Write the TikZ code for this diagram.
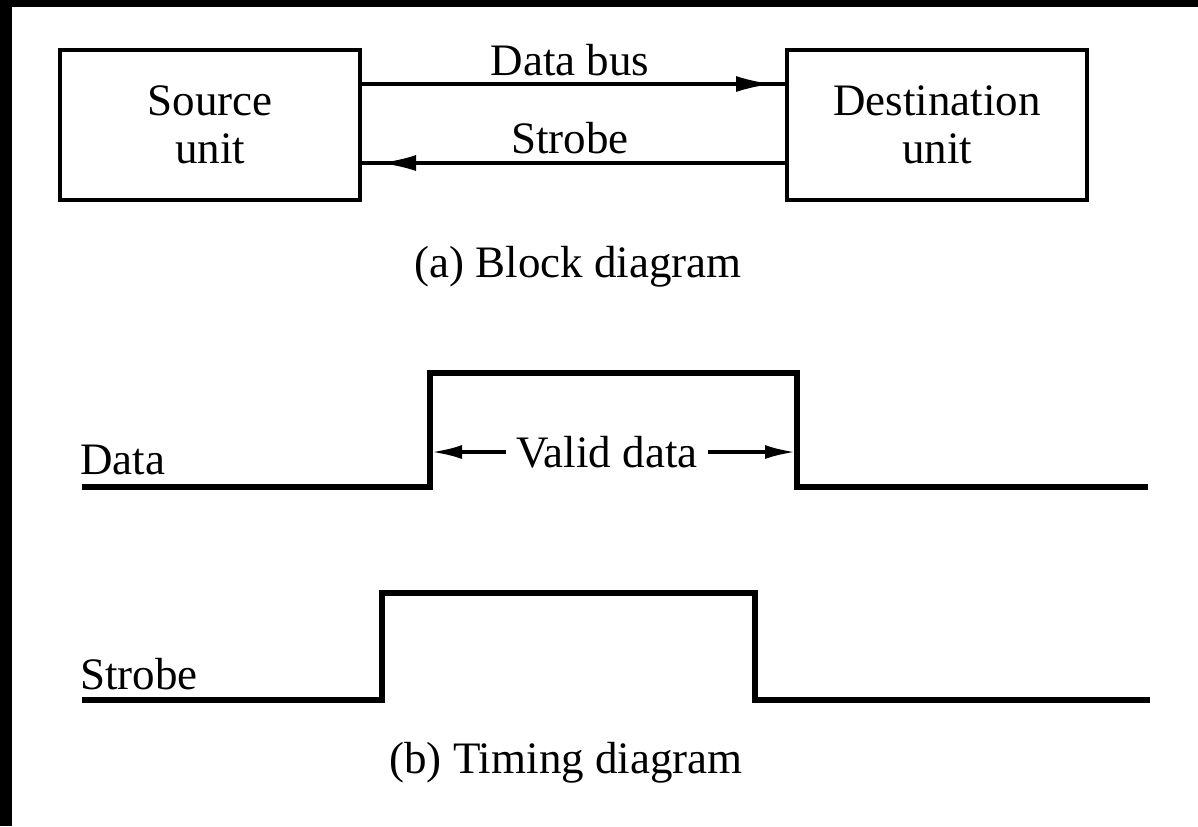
\documentclass[tikz,border=0pt]{standalone}
\usepackage{fontspec}
\setmainfont{Liberation Serif}
\usetikzlibrary{arrows.meta}
\begin{document}
\begin{tikzpicture}[x=0.5pt,y=-0.5pt,
  unitbox/.style={draw,line width=2pt,minimum width=150pt,minimum height=75pt,inner sep=0pt,align=center,font=\fontsize{22.5}{24}\selectfont},
  lbl/.style={font=\fontsize{22.5}{24}\selectfont,inner sep=0pt},
  bus/.style={line width=1.6pt},
  wave/.style={line width=2.6pt,line join=miter},
  tip/.style={-{Latex[length=18pt,width=8pt]}},
  stip/.style={-{Latex[length=15pt,width=7pt]}}]
\useasboundingbox (0,0) rectangle (1198,826);
\fill[black] (0,0) rectangle (1198,7);
\fill[black] (0,0) rectangle (12,826);
% block diagram
\node[unitbox] (src) at (210,125) {Source\\unit};
\node[unitbox] (dst) at (937,125) {Destination\\unit};
\coordinate (dbtip) at (772,84);
\coordinate (dbbase) at (700,84);
\coordinate (sttip) at (380,163);
\coordinate (stbase) at (450,163);
\draw[bus] (src.east |- dbtip) -- (dst.west |- dbtip);
\draw[bus,tip] (dbbase) -- (dbtip);
\draw[bus] (dst.west |- sttip) -- (src.east |- sttip);
\draw[bus,tip] (stbase) -- (sttip);
\node[lbl] (dbl) at (570,60) {Data bus};
\node[lbl] (stl) at (570,138) {Strobe};
\node[lbl] (capa) at (578,267) {(a) Block diagram};
% timing: data
\coordinate (d0) at (82,487);
\coordinate (d1) at (430,487);
\coordinate (d2) at (430,373);
\coordinate (d3) at (797,373);
\coordinate (d4) at (797,487);
\coordinate (d5) at (1148,487);
\draw[wave] (d0) -- (d1) -- (d2) -- (d3) -- (d4) -- (d5);
\node[lbl,anchor=south west] (dlab) at (80,475) {Data};
\node[lbl,inner xsep=5pt] (vd) at (607,452) {Valid data};
\draw[bus,stip] (vd.west) -- ([xshift=1pt]d1 |- vd.west);
\draw[bus,stip] (vd.east) -- ([xshift=-1pt]d4 |- vd.east);
% timing: strobe
\coordinate (s0) at (82,700);
\coordinate (s1) at (382,700);
\coordinate (s2) at (382,593);
\coordinate (s3) at (755,593);
\coordinate (s4) at (755,700);
\coordinate (s5) at (1150,700);
\draw[wave] (s0) -- (s1) -- (s2) -- (s3) -- (s4) -- (s5);
\node[lbl,anchor=south west] (slab) at (80,690) {Strobe};
\node[lbl] (capb) at (566,763) {(b) Timing diagram};
\end{tikzpicture}
\end{document}
